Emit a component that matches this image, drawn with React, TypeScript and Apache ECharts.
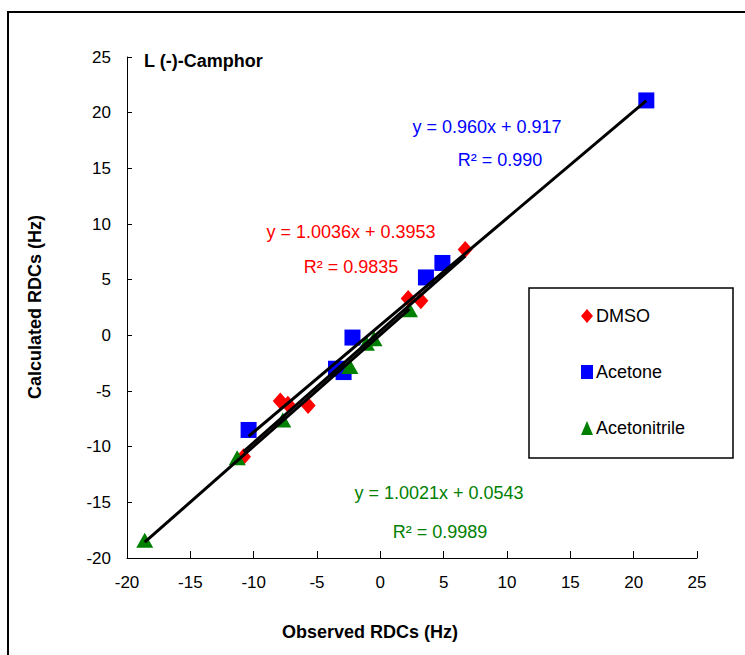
import React, { useEffect, useRef } from "react";
import * as echarts from "echarts";

// ---- data ----
const seriesNames = ["DMSO", "Acetone", "Acetonitrile"];
const dmsoX = [6.7, 2.2, 3.2, -7.9, -7.3, -5.7, -10.8];
const dmsoY = [7.7, 3.3, 3.1, -5.9, -6.2, -6.3, -10.9];
const acetoneX = [21.0, 3.6, 4.9, -2.2, -3.5, -2.9, -10.4];
const acetoneY = [21.1, 5.2, 6.5, -0.2, -3.0, -3.3, -8.5];
const acetonitrileX = [-18.6, -11.3, -7.7, -2.4, -1.1, -0.5, 2.3];
const acetonitrileY = [-18.4, -11.0, -7.6, -2.8, -0.7, -0.3, 2.3];
const slopes = [1.0036, 0.96, 1.0021];
const intercepts = [0.3953, 0.917, 0.0543];
const equationLabels = ["y = 1.0036x + 0.3953", "y = 0.960x + 0.917", "y = 1.0021x + 0.0543"];
const r2Labels = ["R\u00b2 = 0.9835", "R\u00b2 = 0.990", "R\u00b2 = 0.9989"];
const axisMin = -20;
const axisMax = 25;
const axisStep = 5;
const chartTitle = "L (-)-Camphor";
const xAxisTitle = "Observed RDCs (Hz)";
const yAxisTitle = "Calculated RDCs (Hz)";

const colors = ["#FF0000", "#0000FF", "#008000"];
const symbols = ["diamond", "rect", "triangle"];
const symbolSizes: any[] = [[15, 17], [16, 16], [17, 15]];
const FONT = "'Liberation Sans', Arial, sans-serif";

export default function App() {
  const ref = useRef<HTMLDivElement>(null);
  useEffect(() => {
    if (!ref.current) return;
    const chart = echarts.init(ref.current, undefined, { renderer: "svg" });
    const xs = [dmsoX, acetoneX, acetonitrileX];
    const ys = [dmsoY, acetoneY, acetonitrileY];
    const scatter = seriesNames.map((name, i) => ({
      name,
      type: "scatter",
      symbol: symbols[i],
      symbolSize: symbolSizes[i],
      itemStyle: { color: colors[i], opacity: 1 },
      emphasis: { disabled: true },
      data: xs[i].map((x, k) => [x, ys[i][k]]),
      z: 2,
    }));
    const trends = seriesNames.map((name, i) => {
      const lo = Math.min(...xs[i]);
      const hi = Math.max(...xs[i]);
      return {
        name: name + " fit",
        type: "line",
        symbol: "none",
        lineStyle: { color: "#000", width: 3 },
        data: [
          [lo, slopes[i] * lo + intercepts[i]],
          [hi, slopes[i] * hi + intercepts[i]],
        ],
        z: 3,
      };
    });
    const eqPos = [
      [351, 232, 351, 267],
      [487, 127, 500, 160],
      [439, 493, 440, 532],
    ];
    const eqGraphics: any[] = [];
    seriesNames.forEach((_, i) => {
      eqGraphics.push({
        type: "text",
        x: eqPos[i][0],
        y: eqPos[i][1],
        style: { text: equationLabels[i], fill: colors[i], font: `18px ${FONT}`, textAlign: "center", textVerticalAlign: "middle" },
      });
      eqGraphics.push({
        type: "text",
        x: eqPos[i][2],
        y: eqPos[i][3],
        style: { text: r2Labels[i], fill: colors[i], font: `18px ${FONT}`, textAlign: "center", textVerticalAlign: "middle" },
      });
    });
    chart.setOption({
      animation: false,
      backgroundColor: "#fff",
      grid: { left: 127, right: 48, top: 57, bottom: 97 },
      xAxis: {
        type: "value",
        min: axisMin,
        max: axisMax,
        interval: axisStep,
        splitLine: { show: false },
        axisLine: { onZero: false, lineStyle: { color: "#000", width: 1 } },
        axisTick: { inside: true, length: 7, lineStyle: { color: "#000" } },
        axisLabel: { color: "#000", fontSize: 17, fontFamily: FONT, margin: 16 },
      },
      yAxis: {
        type: "value",
        min: axisMin,
        max: axisMax,
        interval: axisStep,
        splitLine: { show: false },
        axisLine: { onZero: false, lineStyle: { color: "#000", width: 1 } },
        axisTick: { inside: true, length: 5, lineStyle: { color: "#000" } },
        axisLabel: { color: "#000", fontSize: 17, fontFamily: FONT, margin: 16 },
      },
      legend: {
        data: seriesNames.map((n, i) => ({ name: n, icon: symbols[i], itemStyle: { color: colors[i], opacity: 1 } })),
        orient: "vertical",
        left: 581,
        top: 306,
        padding: 0,
        itemWidth: 12,
        itemHeight: 14,
        itemGap: 36,
        textStyle: { color: "#000", fontSize: 18, fontFamily: FONT, lineHeight: 20, padding: [0, 0, 0, -2] },
        selectedMode: false,
      },
      graphic: [
        { type: "rect", shape: { x: 8, y: 12, width: 800, height: 700 }, style: { fill: "none", stroke: "#000", lineWidth: 2 }, z: -1 },
        { type: "rect", shape: { x: 529, y: 288, width: 204, height: 170 }, style: { fill: "none", stroke: "#000", lineWidth: 1.5 } },
        { type: "text", x: 144, y: 61, style: { text: chartTitle, fill: "#000", font: `bold 18px ${FONT}`, textAlign: "left", textVerticalAlign: "middle" } },
        { type: "text", x: 370, y: 632, style: { text: xAxisTitle, fill: "#000", font: `bold 18px ${FONT}`, textAlign: "center", textVerticalAlign: "middle" } },
        { type: "text", x: 35, y: 307, rotation: Math.PI / 2, style: { text: yAxisTitle, fill: "#000", font: `bold 18px ${FONT}`, textAlign: "center", textVerticalAlign: "middle" } },
        ...eqGraphics,
      ],
      series: [...scatter, ...trends],
    });
    return () => chart.dispose();
  }, []);
  return <div ref={ref} style={{ width: 745, height: 655, position: "absolute", left: 0, top: 0 }} />;
}
